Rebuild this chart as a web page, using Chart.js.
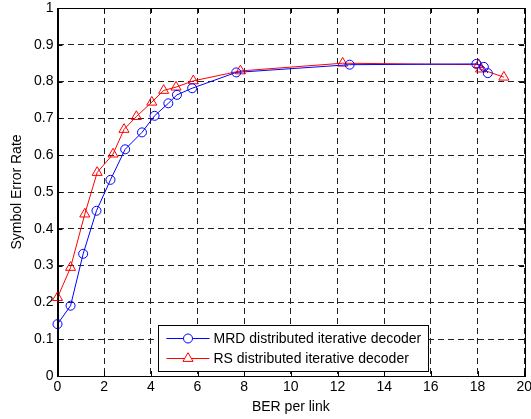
<!DOCTYPE html>
<html>
<head>
<meta charset="utf-8">
<script src="https://cdn.jsdelivr.net/npm/chart.js@4/dist/chart.umd.min.js"></script>
<style>
  body { margin: 0; background: #fff; }
  canvas { display: block; }
</style>
</head>
<body>
<canvas id="chart" width="531" height="419"></canvas>
<script>
// Data
const mrdX = [0, 0.56, 1.1, 1.67, 2.27, 2.9, 3.62, 4.16, 4.75, 5.12, 5.77, 7.66, 12.52, 17.95, 18.27, 18.44];
const mrdY = [0.141, 0.191, 0.332, 0.449, 0.533, 0.616, 0.662, 0.707, 0.741, 0.764, 0.782, 0.825, 0.846, 0.848, 0.840, 0.823];
const rsX = [0, 0.56, 1.17, 1.7, 2.38, 2.85, 3.38, 4.04, 4.55, 5.08, 5.82, 7.84, 12.22, 18.05, 18.13, 19.13];
const rsY = [0.213, 0.295, 0.44, 0.553, 0.603, 0.670, 0.705, 0.744, 0.776, 0.785, 0.802, 0.829, 0.850, 0.846, 0.834, 0.812];

const seriesLabels = ['MRD distributed iterative decoder', 'RS distributed iterative decoder'];
const xTitle = 'BER per link';
const yTitle = 'Symbol Error Rate';

const FONT = "'Liberation Sans', Arial, sans-serif";
const FSIZE = 14;

function toPoints(xs, ys) {
    return xs.map((x, i) => ({ x, y: ys[i] }));
}

// MATLAB-style inward ticks on all four sides + box
const boxTicks = {
    id: 'boxTicks',
    afterDatasetsDraw(chart) {
        const { ctx, chartArea: a, scales } = chart;
        const len = 5;
        ctx.save();
        ctx.strokeStyle = '#000';
        ctx.lineWidth = 1;
        ctx.beginPath();
        scales.x.ticks.forEach(t => {
            const px = Math.round(scales.x.getPixelForValue(t.value)) + 0.5;
            ctx.moveTo(px, a.bottom); ctx.lineTo(px, a.bottom - len);
            ctx.moveTo(px, a.top); ctx.lineTo(px, a.top + len);
        });
        scales.y.ticks.forEach(t => {
            const py = Math.round(scales.y.getPixelForValue(t.value)) + 0.5;
            ctx.moveTo(a.left, py); ctx.lineTo(a.left + len, py);
            ctx.moveTo(a.right, py); ctx.lineTo(a.right - len, py);
        });
        ctx.stroke();
        ctx.strokeRect(Math.round(a.left) + 0.5, Math.round(a.top) + 0.5,
            Math.round(a.right - a.left), Math.round(a.bottom - a.top));
        ctx.restore();
    }
};

// legend box inside the plot, lower middle
const insideLegend = {
    id: 'insideLegend',
    afterDraw(chart) {
        const { ctx, chartArea: a } = chart;
        const left = a.left + 100, top = a.bottom - 51, w = 270, h = 46;
        ctx.save();
        ctx.fillStyle = '#fff';
        ctx.fillRect(left, top, w, h);
        ctx.strokeStyle = '#000';
        ctx.lineWidth = 1;
        ctx.strokeRect(Math.round(left) + 0.5, Math.round(top) + 0.5, w, h);
        ctx.font = FSIZE + 'px ' + FONT;
        ctx.textBaseline = 'middle';
        chart.data.datasets.forEach((ds, i) => {
            const y = top + 13.5 + i * 20;
            const x0 = left + 9, x1 = left + 52, mx = (x0 + x1) / 2;
            ctx.strokeStyle = ds.borderColor;
            ctx.beginPath();
            ctx.moveTo(x0, y); ctx.lineTo(x1, y);
            ctx.stroke();
            ctx.fillStyle = '#fff';
            Chart.helpers.drawPoint(ctx, {
                pointStyle: ds.pointStyle,
                radius: ds.pointRadius,
                borderWidth: 1,
                rotation: 0
            }, mx, y);
            ctx.fillStyle = '#000';
            ctx.fillText(ds.label, left + 56, y + 0.5);
        });
        ctx.restore();
    }
};

new Chart(document.getElementById('chart'), {
    type: 'scatter',
    data: {
        datasets: [{
            label: seriesLabels[0],
            data: toPoints(mrdX, mrdY),
            showLine: true,
            borderColor: '#0000ff',
            borderWidth: 1,
            pointStyle: 'circle',
            pointRadius: 4.5,
            pointBorderWidth: 1,
            pointBorderColor: '#0000ff',
            pointBackgroundColor: 'rgba(0,0,0,0)',
            clip: false
        }, {
            label: seriesLabels[1],
            data: toPoints(rsX, rsY),
            showLine: true,
            borderColor: '#ff0000',
            borderWidth: 1,
            pointStyle: 'triangle',
            pointRadius: 5.8,
            pointBorderWidth: 1,
            pointBorderColor: '#ff0000',
            pointBackgroundColor: 'rgba(0,0,0,0)',
            clip: false
        }]
    },
    options: {
        responsive: false,
        animation: false,
        layout: { padding: { top: 8, right: 4.5, left: 0, bottom: 0 } },
        plugins: {
            legend: { display: false },
            tooltip: { enabled: false }
        },
        scales: {
            x: {
                type: 'linear',
                min: 0,
                max: 20,
                ticks: {
                    stepSize: 2,
                    padding: 3,
                    color: '#000',
                    font: { family: FONT, size: FSIZE },
                    maxRotation: 0
                },
                grid: {
                    color: '#222',
                    lineWidth: 1,
                    drawTicks: false
                },
                border: { display: true, color: '#000', dash: [6, 4] },
                title: {
                    display: true,
                    text: xTitle,
                    color: '#000',
                    font: { family: FONT, size: FSIZE },
                    padding: { top: 0, bottom: 3 }
                },
                afterFit(scale) {
                    scale.height = 43;
                    scale.paddingLeft = 0;
                    scale.paddingRight = 0;
                }
            },
            y: {
                type: 'linear',
                min: 0,
                max: 1,
                ticks: {
                    stepSize: 0.1,
                    padding: 4,
                    color: '#000',
                    font: { family: FONT, size: FSIZE },
                    callback: v => String(Number(v.toFixed(1)))
                },
                grid: {
                    color: '#222',
                    lineWidth: 1,
                    drawTicks: false
                },
                border: { display: true, color: '#000', dash: [6, 4] },
                title: {
                    display: true,
                    text: yTitle,
                    color: '#000',
                    font: { family: FONT, size: FSIZE },
                    padding: { top: 9, bottom: 0 }
                },
                afterFit(scale) {
                    scale.width = 57.5;
                    scale.paddingTop = 0;
                    scale.paddingBottom = 0;
                }
            }
        }
    },
    plugins: [boxTicks, insideLegend]
});
</script>
</body>
</html>
